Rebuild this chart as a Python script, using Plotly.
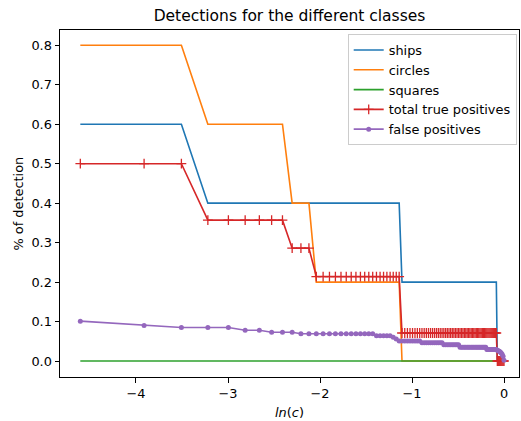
import numpy as np
import plotly.graph_objects as go

# threshold values c (x axis shows ln(c))
c_values = [
    0.01, 0.02, 0.03, 0.04, 0.05, 0.06, 0.07, 0.08, 0.09, 0.10,
    0.11, 0.12, 0.13, 0.14, 0.15, 0.16, 0.17, 0.18, 0.19, 0.20,
    0.21, 0.22, 0.23, 0.24, 0.25, 0.26, 0.27, 0.28, 0.29, 0.30,
    0.31, 0.32, 0.33, 0.34, 0.35, 0.36, 0.37, 0.38, 0.39, 0.40,
    0.41, 0.42, 0.43, 0.44, 0.45, 0.46, 0.47, 0.48, 0.49, 0.50,
    0.51, 0.52, 0.53, 0.54, 0.55, 0.56, 0.57, 0.58, 0.59, 0.60,
    0.61, 0.62, 0.63, 0.64, 0.65, 0.66, 0.67, 0.68, 0.69, 0.70,
    0.71, 0.72, 0.73, 0.74, 0.75, 0.76, 0.77, 0.78, 0.79, 0.80,
    0.81, 0.82, 0.83, 0.84, 0.85, 0.86, 0.87, 0.88, 0.89, 0.90,
    0.91, 0.92, 0.93, 0.94, 0.95, 0.96, 0.97, 0.98, 0.99, 1.00,
]

ships = [
    0.6, 0.6, 0.6, 0.4, 0.4, 0.4, 0.4, 0.4, 0.4, 0.4,
    0.4, 0.4, 0.4, 0.4, 0.4, 0.4, 0.4, 0.4, 0.4, 0.4,
    0.4, 0.4, 0.4, 0.4, 0.4, 0.4, 0.4, 0.4, 0.4, 0.4,
    0.4, 0.4, 0.2, 0.2, 0.2, 0.2, 0.2, 0.2, 0.2, 0.2,
    0.2, 0.2, 0.2, 0.2, 0.2, 0.2, 0.2, 0.2, 0.2, 0.2,
    0.2, 0.2, 0.2, 0.2, 0.2, 0.2, 0.2, 0.2, 0.2, 0.2,
    0.2, 0.2, 0.2, 0.2, 0.2, 0.2, 0.2, 0.2, 0.2, 0.2,
    0.2, 0.2, 0.2, 0.2, 0.2, 0.2, 0.2, 0.2, 0.2, 0.2,
    0.2, 0.2, 0.2, 0.2, 0.2, 0.2, 0.2, 0.2, 0.2, 0.2,
    0.2, 0.2, 0.0, 0.0, 0.0, 0.0, 0.0, 0.0, 0.0, 0.0,
]

circles = [
    0.8, 0.8, 0.8, 0.6, 0.6, 0.6, 0.6, 0.6, 0.6, 0.4,
    0.4, 0.4, 0.2, 0.2, 0.2, 0.2, 0.2, 0.2, 0.2, 0.2,
    0.2, 0.2, 0.2, 0.2, 0.2, 0.2, 0.2, 0.2, 0.2, 0.2,
    0.2, 0.2, 0.0, 0.0, 0.0, 0.0, 0.0, 0.0, 0.0, 0.0,
    0.0, 0.0, 0.0, 0.0, 0.0, 0.0, 0.0, 0.0, 0.0, 0.0,
    0.0, 0.0, 0.0, 0.0, 0.0, 0.0, 0.0, 0.0, 0.0, 0.0,
    0.0, 0.0, 0.0, 0.0, 0.0, 0.0, 0.0, 0.0, 0.0, 0.0,
    0.0, 0.0, 0.0, 0.0, 0.0, 0.0, 0.0, 0.0, 0.0, 0.0,
    0.0, 0.0, 0.0, 0.0, 0.0, 0.0, 0.0, 0.0, 0.0, 0.0,
    0.0, 0.0, 0.0, 0.0, 0.0, 0.0, 0.0, 0.0, 0.0, 0.0,
]

squares = [0.0] * 100

total_true_positives = [
    0.500, 0.500, 0.500, 0.357, 0.357, 0.357, 0.357, 0.357, 0.357, 0.286,
    0.286, 0.286, 0.214, 0.214, 0.214, 0.214, 0.214, 0.214, 0.214, 0.214,
    0.214, 0.214, 0.214, 0.214, 0.214, 0.214, 0.214, 0.214, 0.214, 0.214,
    0.214, 0.214, 0.071, 0.071, 0.071, 0.071, 0.071, 0.071, 0.071, 0.071,
    0.071, 0.071, 0.071, 0.071, 0.071, 0.071, 0.071, 0.071, 0.071, 0.071,
    0.071, 0.071, 0.071, 0.071, 0.071, 0.071, 0.071, 0.071, 0.071, 0.071,
    0.071, 0.071, 0.071, 0.071, 0.071, 0.071, 0.071, 0.071, 0.071, 0.071,
    0.071, 0.071, 0.071, 0.071, 0.071, 0.071, 0.071, 0.071, 0.071, 0.071,
    0.071, 0.071, 0.071, 0.071, 0.071, 0.071, 0.071, 0.071, 0.071, 0.071,
    0.071, 0.071, 0.000, 0.000, 0.000, 0.000, 0.000, 0.000, 0.000, 0.000,
]

false_positives = [
    0.101, 0.090, 0.085, 0.085, 0.085, 0.078, 0.078, 0.073, 0.073, 0.073,
    0.069, 0.069, 0.069, 0.069, 0.069, 0.069, 0.069, 0.069, 0.069, 0.069,
    0.069, 0.069, 0.069, 0.069, 0.064, 0.064, 0.064, 0.064, 0.064, 0.060,
    0.056, 0.051, 0.051, 0.051, 0.051, 0.051, 0.051, 0.051, 0.051, 0.051,
    0.046, 0.046, 0.046, 0.046, 0.046, 0.046, 0.046, 0.046, 0.046, 0.046,
    0.046, 0.041, 0.041, 0.041, 0.041, 0.041, 0.041, 0.041, 0.041, 0.041,
    0.041, 0.035, 0.035, 0.035, 0.035, 0.035, 0.035, 0.035, 0.035, 0.035,
    0.035, 0.035, 0.035, 0.035, 0.035, 0.035, 0.035, 0.035, 0.035, 0.035,
    0.035, 0.035, 0.029, 0.029, 0.029, 0.029, 0.029, 0.029, 0.029, 0.029,
    0.029, 0.029, 0.027, 0.026, 0.025, 0.023, 0.020, 0.017, 0.012, 0.002,
]

x_ticks = [-4, -3, -2, -1, 0]
x_tick_labels = ["\u22124", "\u22123", "\u22122", "\u22121", "0"]
y_ticks = [0.0, 0.1, 0.2, 0.3, 0.4, 0.5, 0.6, 0.7, 0.8]
y_tick_labels = ["0.0", "0.1", "0.2", "0.3", "0.4", "0.5", "0.6", "0.7", "0.8"]

x = np.log(np.array(c_values))

FONT = "DejaVu Sans"
FS = 12.9
LW = 1.6

fig = go.Figure()
fig.add_trace(go.Scatter(x=x, y=ships, mode="lines", name="ships",
                         line=dict(color="#1f77b4", width=LW)))
fig.add_trace(go.Scatter(x=x, y=circles, mode="lines", name="circles",
                         line=dict(color="#ff7f0e", width=LW)))
fig.add_trace(go.Scatter(x=x, y=squares, mode="lines", name="squares",
                         line=dict(color="#2ca02c", width=LW)))
fig.add_trace(go.Scatter(x=x, y=total_true_positives, mode="lines+markers",
                         name="total true positives",
                         line=dict(color="#d62728", width=LW),
                         marker=dict(symbol="cross-thin", size=7,
                                     line=dict(color="#d62728", width=1.3))))
fig.add_trace(go.Scatter(x=x, y=false_positives, mode="lines+markers",
                         name="false positives",
                         line=dict(color="#9467bd", width=LW),
                         marker=dict(symbol="circle", size=5, color="#9467bd")))

axis_common = dict(
    showgrid=False, zeroline=False, showline=True, mirror=True,
    linecolor="black", linewidth=1, ticks="outside", ticklen=4.5,
    tickwidth=1, tickcolor="black",
    tickfont=dict(family=FONT, size=FS, color="black"),
)

fig.update_layout(
    width=521, height=421,
    margin=dict(l=60, r=2, t=30, b=44),
    paper_bgcolor="white", plot_bgcolor="white",
    font=dict(family=FONT, size=FS, color="black"),
    title=dict(text="Detections for the different classes",
               font=dict(family=FONT, size=15.5, color="black"),
               x=0.5, xref="paper", xanchor="center",
               y=1 - 16 / 421, yref="container", yanchor="middle"),
    xaxis=dict(range=[-4.826, 0.163], tickvals=x_ticks, ticktext=x_tick_labels,
               **axis_common),
    yaxis=dict(range=[-0.0405, 0.8388], tickvals=y_ticks, ticktext=y_tick_labels,
               **axis_common),
    legend=dict(x=0.995, y=0.988, xanchor="right", yanchor="top",
                bgcolor="rgba(255,255,255,0.8)", bordercolor="#cccccc",
                borderwidth=1, font=dict(family=FONT, size=FS, color="black"),
                itemwidth=30),
    showlegend=True,
    annotations=[
        dict(text="<i>ln</i>(<i>c</i>)", xref="paper", yref="paper",
             x=0.5, y=0, yshift=-35, xanchor="center", yanchor="middle",
             showarrow=False, font=dict(family=FONT, size=FS, color="black")),
        dict(text="% of detection", xref="paper", yref="paper",
             x=0, y=0.5, xshift=-42, xanchor="center", yanchor="middle",
             textangle=-90, showarrow=False,
             font=dict(family=FONT, size=FS, color="black")),
    ],
)

fig.write_html("out.html")
